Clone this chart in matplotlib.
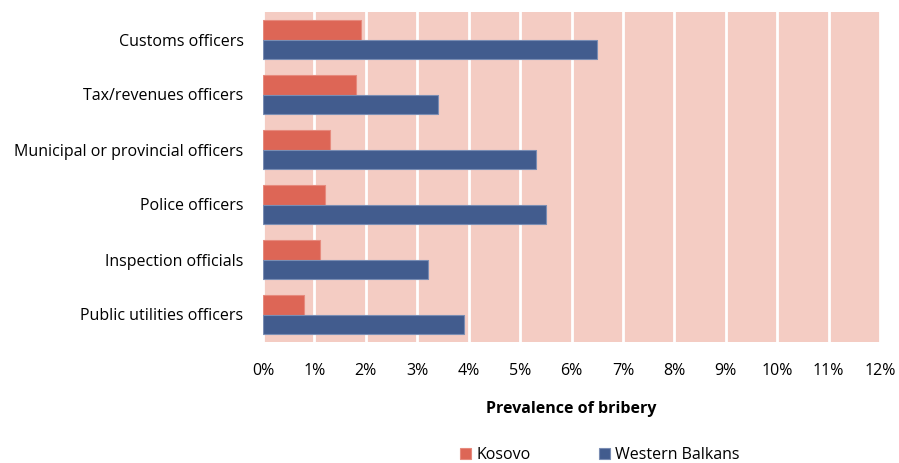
import numpy as np
import matplotlib.pyplot as plt
from matplotlib.ticker import PercentFormatter

# Prevalence of bribery by type of official, in percent
categories = ['Customs officers', 'Tax/revenues officers', 'Municipal or provincial officers',
              'Police officers', 'Inspection officials', 'Public utilities officers']
kosovo = [1.9, 1.8, 1.3, 1.2, 1.1, 0.8]
western_balkans = [6.5, 3.4, 5.3, 5.5, 3.2, 3.9]

plt.rcParams['font.family'] = ['Open Sans', 'DejaVu Sans']

fig = plt.figure(figsize=(8.99, 4.63), dpi=100)
ax = fig.add_axes([263 / 899, 1 - 342 / 463, (880 - 263) / 899, (342 - 12) / 463])

y = np.arange(len(categories))
h = 0.35
ax.barh(y - h / 2, kosovo, height=h, color='#DD6656', edgecolor='#E68A7D', linewidth=0.8,
        label='Kosovo', zorder=3)
ax.barh(y + h / 2, western_balkans, height=h, color='#425C8E', edgecolor='#7A8DB3', linewidth=0.8,
        label='Western Balkans', zorder=3)

ax.set_facecolor('#F4CCC3')
ax.set_xlim(0, 12)
ax.set_ylim(len(categories) - 0.5, -0.5)
ax.set_xticks(range(0, 13))
ax.xaxis.set_major_formatter(PercentFormatter(decimals=0))
ax.set_yticks(y)
ax.set_yticklabels(categories)
ax.grid(axis='x', color='white', linewidth=2, zorder=1)
ax.set_axisbelow(True)
for s in ax.spines.values():
    s.set_visible(False)
ax.tick_params(length=0, labelsize=11.5, colors='black')
ax.tick_params(axis='x', pad=15)
ax.tick_params(axis='y', pad=14)

ax.set_xlabel('Prevalence of bribery', fontsize=11.5, fontweight='bold', labelpad=16)

fig.legend(*ax.get_legend_handles_labels(), loc='center', bbox_to_anchor=(600 / 899, 1 - 455 / 463),
           ncol=2, frameon=False, fontsize=11.5, handlelength=0.7, handleheight=0.7,
           columnspacing=4.3, handletextpad=0.3, borderaxespad=0, borderpad=0)

fig.savefig('out.png', dpi=100)
